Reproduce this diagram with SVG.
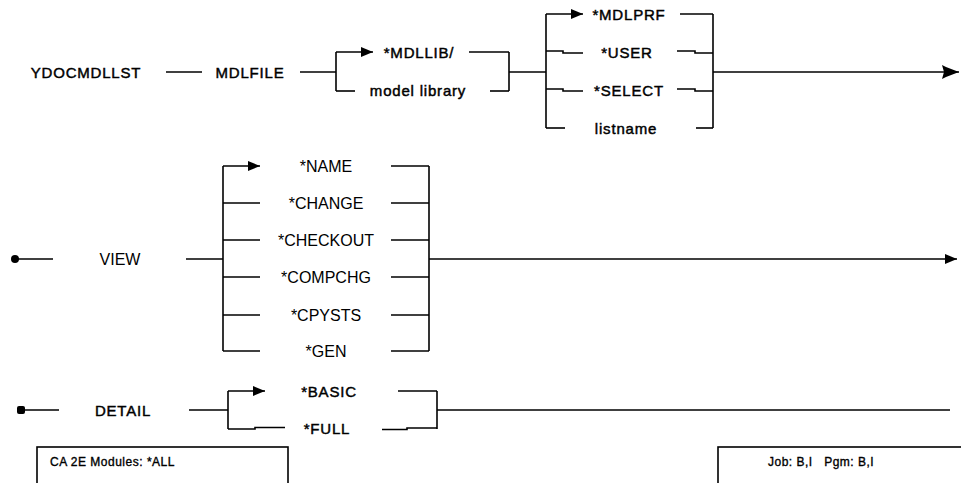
<svg xmlns="http://www.w3.org/2000/svg" width="961" height="483" viewBox="0 0 961 483">
<style>
.ln{fill:none;stroke:#000;stroke-width:1.6}
.px{font-family:"Liberation Sans",Arial,sans-serif;font-size:15px;letter-spacing:0.8px;fill:#000;stroke:#000;stroke-width:0.45}
.ar{font-family:"Liberation Sans",Arial,sans-serif;font-size:16px;fill:#000}
.bx{fill:#fff;stroke:#000;stroke-width:1.6}
.sm{font-family:"Liberation Sans",Arial,sans-serif;font-size:12px;letter-spacing:0.5px;fill:#000;stroke:#000;stroke-width:0.35;white-space:pre}
</style>
<defs>
<marker id="arr" markerUnits="userSpaceOnUse" markerWidth="12" markerHeight="10" refX="12" refY="5" orient="auto">
<path d="M0,0 L12,5 L0,10 z" fill="#000"/>
</marker>
<marker id="arrL" markerUnits="userSpaceOnUse" markerWidth="17" markerHeight="14" refX="17" refY="7" orient="auto">
<path d="M0,0 L4,2 L17,7 L4,12 L0,14 L2,7 z" fill="#000"/>
</marker>
</defs>

<g id="connectors">
<!-- row 1 -->
<line class="ln" x1="166" y1="72" x2="202" y2="72"/>
<line class="ln" x1="300" y1="72" x2="336" y2="72"/>
<line class="ln" x1="336" y1="52" x2="336" y2="91"/>
<line class="ln" x1="336" y1="52" x2="373" y2="52" marker-end="url(#arr)"/>
<line class="ln" x1="336" y1="91" x2="355" y2="91"/>
<line class="ln" x1="469" y1="52" x2="509" y2="52"/>
<line class="ln" x1="490" y1="91" x2="509" y2="91"/>
<line class="ln" x1="509" y1="52" x2="509" y2="91"/>
<line class="ln" x1="509" y1="72" x2="546" y2="72"/>
<line class="ln" x1="546" y1="14" x2="546" y2="128"/>
<line class="ln" x1="546" y1="14" x2="583" y2="14" marker-end="url(#arr)"/>
<polyline class="ln" points="546,51 563,51 563,53 583,53"/>
<polyline class="ln" points="546,89 563,89 563,91 583,91"/>
<line class="ln" x1="546" y1="128" x2="565" y2="128"/>
<line class="ln" x1="680" y1="14" x2="713" y2="14"/>
<polyline class="ln" points="677,51 695,51 695,53 713,53"/>
<polyline class="ln" points="677,89 695,89 695,91 713,91"/>
<line class="ln" x1="696" y1="128" x2="713" y2="128"/>
<line class="ln" x1="713" y1="14" x2="713" y2="128"/>
<line class="ln" x1="713" y1="72" x2="959" y2="72" marker-end="url(#arrL)"/>
<!-- row 2 -->
<circle cx="15" cy="259" r="4" fill="#000"/>
<line class="ln" x1="15" y1="259" x2="53" y2="259"/>
<line class="ln" x1="186" y1="259" x2="223" y2="259"/>
<line class="ln" x1="223" y1="166" x2="223" y2="351"/>
<line class="ln" x1="223" y1="166" x2="260" y2="166" marker-end="url(#arr)"/>
<line class="ln" x1="223" y1="203" x2="260" y2="203"/>
<line class="ln" x1="223" y1="240" x2="260" y2="240"/>
<line class="ln" x1="223" y1="277" x2="260" y2="277"/>
<line class="ln" x1="223" y1="315" x2="260" y2="315"/>
<line class="ln" x1="223" y1="351" x2="260" y2="351"/>
<line class="ln" x1="391" y1="166" x2="429" y2="166"/>
<line class="ln" x1="391" y1="203" x2="429" y2="203"/>
<line class="ln" x1="391" y1="240" x2="429" y2="240"/>
<line class="ln" x1="391" y1="277" x2="429" y2="277"/>
<line class="ln" x1="391" y1="315" x2="429" y2="315"/>
<line class="ln" x1="391" y1="351" x2="429" y2="351"/>
<line class="ln" x1="429" y1="166" x2="429" y2="351"/>
<line class="ln" x1="429" y1="259" x2="957" y2="259" marker-end="url(#arr)"/>
<!-- row 3 -->
<rect x="17" y="406" width="8" height="8" rx="2" fill="#000"/>
<line class="ln" x1="21" y1="410" x2="59" y2="410"/>
<line class="ln" x1="189" y1="410" x2="228" y2="410"/>
<line class="ln" x1="228" y1="391" x2="228" y2="429"/>
<line class="ln" x1="228" y1="391" x2="265" y2="391" marker-end="url(#arr)"/>
<polyline class="ln" points="228,429 255,429 255,427.5 285,427.5"/>
<line class="ln" x1="398" y1="391" x2="437" y2="391"/>
<polyline class="ln" points="382,429.5 407,429.5 407,428 437,428"/>
<line class="ln" x1="437" y1="391" x2="437" y2="429"/>
<line class="ln" x1="437" y1="410" x2="950" y2="410"/>
</g>

<g id="n-ydocmdllst"><text class="px" x="86" y="77.5" text-anchor="middle">YDOCMDLLST</text></g>
<g id="n-mdlfile"><text class="px" x="250" y="77.5" text-anchor="middle">MDLFILE</text></g>
<g id="n-mdllib"><text class="px" x="419" y="57.5" text-anchor="middle">*MDLLIB/</text></g>
<g id="n-modellibrary"><text class="px" x="418" y="95.5" text-anchor="middle">model library</text></g>
<g id="n-mdlprf"><text class="px" x="629" y="19.5" text-anchor="middle">*MDLPRF</text></g>
<g id="n-user"><text class="px" x="627" y="57.5" text-anchor="middle">*USER</text></g>
<g id="n-select"><text class="px" x="629" y="95.5" text-anchor="middle">*SELECT</text></g>
<g id="n-listname"><text class="px" x="626" y="133.5" text-anchor="middle">listname</text></g>

<g id="n-view"><text class="ar" x="120" y="265" text-anchor="middle">VIEW</text></g>
<g id="n-name"><text class="ar" x="326" y="172" text-anchor="middle">*NAME</text></g>
<g id="n-change"><text class="ar" x="326" y="209" text-anchor="middle">*CHANGE</text></g>
<g id="n-checkout"><text class="ar" x="326" y="246" text-anchor="middle">*CHECKOUT</text></g>
<g id="n-compchg"><text class="ar" x="326" y="283" text-anchor="middle">*COMPCHG</text></g>
<g id="n-cpysts"><text class="ar" x="326" y="321" text-anchor="middle">*CPYSTS</text></g>
<g id="n-gen"><text class="ar" x="326" y="357" text-anchor="middle">*GEN</text></g>

<g id="n-detail"><text class="px" x="123" y="415.5" text-anchor="middle">DETAIL</text></g>
<g id="n-basic"><text class="px" x="329" y="396.5" text-anchor="middle">*BASIC</text></g>
<g id="n-full"><text class="px" x="327" y="433.5" text-anchor="middle">*FULL</text></g>

<g id="n-modules">
<rect class="bx" x="37" y="447" width="251" height="60"/>
<text class="sm" x="50" y="466">CA 2E Modules: *ALL</text>
</g>
<g id="n-job">
<rect class="bx" x="718" y="447" width="260" height="60"/>
<text class="sm" x="768" y="466">Job: B,I   Pgm: B,I</text>
</g>
</svg>
